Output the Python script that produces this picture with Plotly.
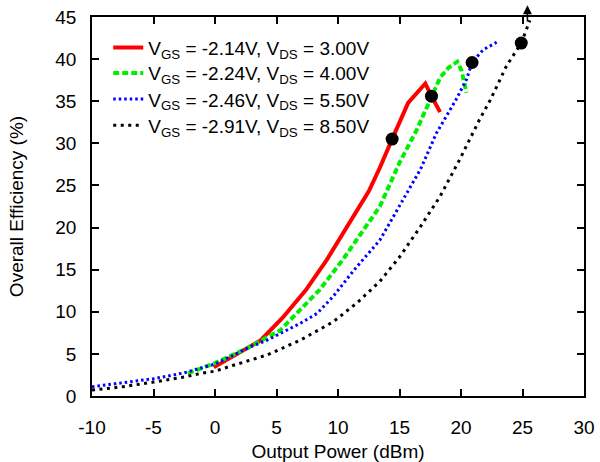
import plotly.graph_objects as go

# Output power (dBm) and overall efficiency (%) for each bias point
red_x = [-0.1, 1.0, 2.0, 3.0, 3.7, 5.5, 7.4, 9.1, 11.2, 12.5, 13.4, 14.2, 14.4, 15.7, 17.1, 17.6, 18.3]
red_y = [3.4, 4.3, 5.1, 6.0, 6.6, 9.3, 12.6, 16.2, 21.1, 24.3, 27.1, 29.6, 30.5, 34.8, 37.1, 35.6, 33.7]

green_x = [-2.2, -0.95, 0.0, 2.3, 5.3, 6.9, 8.5, 10.4, 13.4, 15.0, 16.4, 17.6, 18.3, 19.0, 19.7, 20.05, 20.45]
green_y = [2.7, 3.38, 3.9, 5.44, 7.8, 10.2, 12.6, 16.2, 22.5, 27.7, 31.6, 35.5, 37.8, 39.0, 39.7, 38.6, 36.0]

blue_x = [-10.0, -7.5, -5.0, -2.5, -1.2, 0.0, 1.2, 2.85, 4.2, 5.55, 6.9, 8.3, 9.6, 11.0, 11.5, 13.4, 15.0, 16.7, 18.0, 19.6, 20.45, 20.9, 21.8, 22.9]
blue_y = [1.1, 1.55, 2.05, 2.75, 3.26, 3.8, 4.64, 5.83, 6.6, 7.6, 8.6, 9.8, 11.8, 14.4, 15.3, 18.5, 22.5, 26.9, 31.2, 35.2, 37.6, 39.6, 41.1, 42.0]

black_x = [-10.0, -7.5, -5.0, -2.5, -1.2, 0.0, 1.5, 4.2, 6.9, 9.6, 11.5, 13.4, 15.0, 16.7, 18.3, 19.9, 21.5, 22.4, 23.7, 24.9, 25.6]
black_y = [0.7, 1.1, 1.65, 2.25, 2.67, 2.95, 3.65, 4.85, 6.6, 8.8, 11.0, 13.6, 16.5, 20.1, 23.7, 28.1, 32.8, 35.2, 39.2, 41.9, 44.6]

# Highlighted operating points
mark_x = [14.4, 17.6, 20.9, 24.9]
mark_y = [30.5, 35.6, 39.6, 41.9]

labels = [
    "V<sub>GS</sub> = -2.14V, V<sub>DS</sub> = 3.00V",
    "V<sub>GS</sub> = -2.24V, V<sub>DS</sub> = 4.00V",
    "V<sub>GS</sub> = -2.46V, V<sub>DS</sub> = 5.50V",
    "V<sub>GS</sub> = -2.91V, V<sub>DS</sub> = 8.50V",
]

x_ticks = [-10, -5, 0, 5, 10, 15, 20, 25, 30]
x_tick_text = ["-10", "-5", "0", "5", "10", "15", "20", "25", "30"]
y_ticks = [0, 5, 10, 15, 20, 25, 30, 35, 40, 45]

FONT = "Liberation Sans, Arial, sans-serif"
FS = 19

styles = [
    dict(color="#ff0000", width=4),
    dict(color="#00ee00", width=4, dash="6px,3px"),
    dict(color="#0000ff", width=3, dash="2.5px,3px"),
    dict(color="#000000", width=3, dash="3px,4.5px"),
]
series = [(red_x, red_y), (green_x, green_y), (blue_x, blue_y), (black_x, black_y)]
legend_ids = ["legend", "legend2", "legend3", "legend4"]

fig = go.Figure()
for (xs, ys), name, style, lid in zip(series, labels, styles, legend_ids):
    fig.add_trace(go.Scatter(x=xs, y=ys, mode="lines", name=name,
                             line=style, legend=lid))
fig.add_trace(go.Scatter(x=mark_x, y=mark_y, mode="markers", showlegend=False,
                         marker=dict(color="black", size=13)))

fig.add_annotation(x=25.4, y=46.4, ax=25.4, ay=44.3, xref="x", yref="y",
                   axref="x", ayref="y", showarrow=True, arrowhead=2,
                   arrowsize=1.2, arrowwidth=1.5, arrowcolor="black", text="")

axis_common = dict(
    showline=True, linecolor="black", linewidth=1.5, mirror="ticks",
    ticks="inside", ticklen=7, tickwidth=1.5, tickcolor="black",
    showgrid=False, zeroline=False, automargin=False,
    tickfont=dict(family=FONT, size=FS, color="black"),
)

# One single-entry legend per series, stacked at a fixed row pitch
legend_rows_y = [0.919, 0.852, 0.783, 0.714]
legend_layout = {}
for lid, ly in zip(legend_ids, legend_rows_y):
    legend_layout[lid] = dict(x=0.033, y=ly, xanchor="left", yanchor="middle",
                              bgcolor="rgba(0,0,0,0)", borderwidth=0,
                              font=dict(family=FONT, size=FS), itemwidth=30)

fig.update_layout(
    width=600, height=462,
    margin=dict(l=92, r=16, t=17, b=66, autoexpand=False),
    paper_bgcolor="white", plot_bgcolor="white",
    font=dict(family=FONT, size=FS, color="black"),
    xaxis=dict(range=[-10, 30], tickvals=x_ticks, ticktext=x_tick_text,
               ticklabelstandoff=13,
               title=dict(text="Output Power (dBm)", standoff=8,
                          font=dict(family=FONT, size=FS)),
               **axis_common),
    yaxis=dict(range=[0, 45], tickvals=y_ticks, ticklabelstandoff=10,
               title=dict(text="Overall Efficiency (%)", standoff=27,
                          font=dict(family=FONT, size=FS)),
               **axis_common),
    showlegend=True,
    **legend_layout,
)

fig.write_html("out.html")
